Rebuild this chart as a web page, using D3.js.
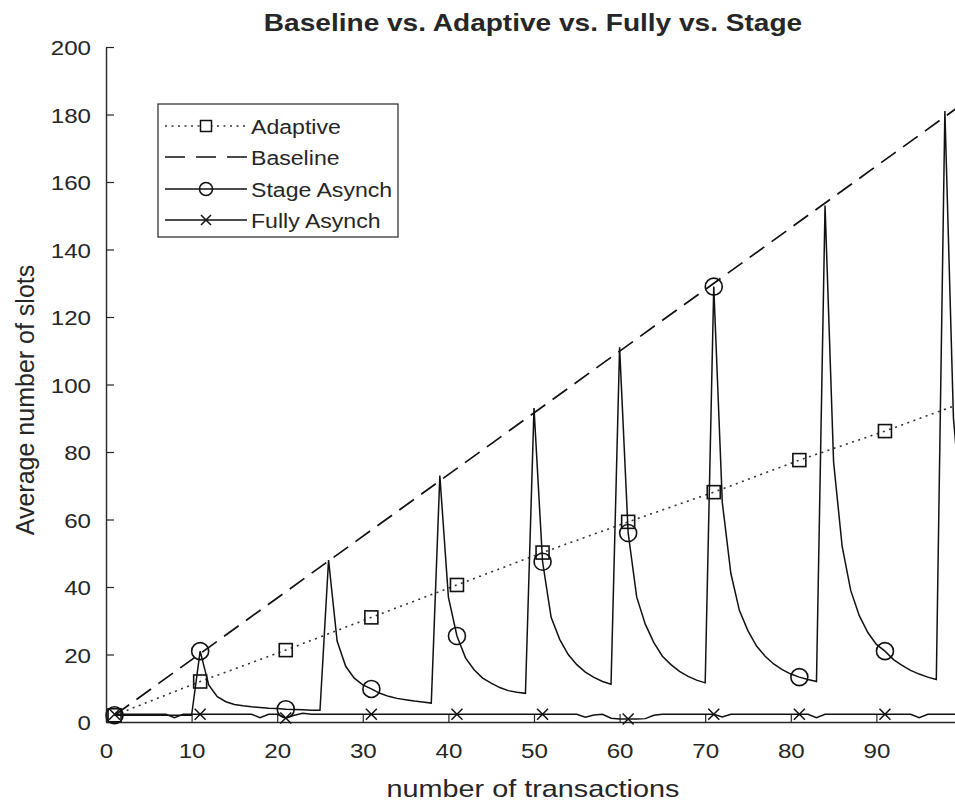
<!DOCTYPE html>
<html><head><meta charset="utf-8">
<script src="https://cdn.jsdelivr.net/npm/d3@7"></script>
<style>
body{margin:0;background:#fff;}
svg{display:block;}
text{font-family:"Liberation Sans",Arial,Helvetica,sans-serif;fill:#262626;}
</style>
</head><body>
<svg id="c" width="955" height="803"></svg>
<script>
// ---------- data ----------
const title = "Baseline vs. Adaptive vs. Fully vs. Stage";
const xLabel = "number of transactions";
const yLabel = "Average number of slots";
const xTicks = [0,10,20,30,40,50,60,70,80,90];
const yTicks = [0,20,40,60,80,100,120,140,160,180,200];

const seriesNames = ["Adaptive","Baseline","Stage Asynch","Fully Asynch"];

const transactions = d3.range(1, 101);   // x = 1..100
const markerX = [1,11,21,31,41,51,61,71,81,91];

const baselineX = [1, 100];
const baselineY = [2, 183];

const adaptiveX = [1,11,21,31,41,51,61,71,81,91,100];
const adaptiveY = [2,12,21.3,31,40.6,50.2,59.3,68.1,77.6,86.2,94.5];

const stageY = [
  2,2,2,2,2,2,2,2,2,2,
  21,11,7.5,6,5.2,4.8,4.5,4.3,4.1,4,
  3.8,3.7,3.6,3.5,3.5,48,24,16.5,13,11,
  9.8,8.5,7.6,7,6.6,6.2,5.9,5.6,73,37,
  25.5,19,15.5,13,11.5,10.2,9.3,8.8,8.5,93,
  47.5,31,24.5,20,17,14.8,13.2,12,11.2,111,
  56,37,29,23.5,19.5,17,15,13.5,12.4,11.6,
  129,65,44,33,27,22.5,19.5,17.2,15.5,14.2,
  13.3,12.6,12,153,77,52,39,31.5,26.5,23,
  21,18.5,16.8,15.3,14.2,13.3,12.6,181,90,61
];

const fullyY = [
  2.3,2.3,2.3,2.3,2.3,2.3,2.3,1.3,2.3,2.3,
  2.3,2.3,2.3,2.3,2.3,2.3,2.3,1.3,2.3,2.3,
  1.2,2.0,2.6,2.3,2.3,2.3,2.3,2.3,2.3,2.3,
  2.3,2.3,2.3,2.3,2.3,2.3,2.3,2.3,2.3,2.3,
  2.3,2.3,2.3,2.3,2.3,2.3,2.3,2.3,2.3,2.3,
  2.3,2.3,2.3,2.3,2.3,1.4,2.1,2.3,1.1,0.9,
  0.9,0.9,1.0,2.0,2.3,2.3,2.3,2.3,2.3,2.3,
  2.3,1.5,2.3,2.3,2.3,2.3,2.3,2.3,2.3,2.3,
  2.3,2.3,1.3,2.3,2.3,2.3,2.3,2.3,2.3,2.3,
  2.3,2.3,2.3,2.3,1.3,2.3,2.3,2.3,2.3,2.3
];

// ---------- layout ----------
const svg = d3.select("#c");
const W = 955, H = 803;
svg.append("rect").attr("width",W).attr("height",H).attr("fill","#fff");

const x = d3.scaleLinear().domain([0,100]).range([106,962]);
const y = d3.scaleLinear().domain([0,200]).range([722,47]);
const axisColor = "#262626";

function stretchText(sel, sx){
  sel.each(function(){
    const t = d3.select(this);
    const px = +t.attr("x") || 0, py = +t.attr("y") || 0;
    t.attr("transform", `translate(${px},${py}) scale(${sx},1)`).attr("x",0).attr("y",0);
  });
}

// axes
const gx = svg.append("g").attr("transform",`translate(0,${y(0)})`)
  .call(d3.axisBottom(x).tickValues(xTicks).tickSizeInner(-8).tickSizeOuter(0).tickPadding(21).tickFormat(d3.format("d")));
const gy = svg.append("g").attr("transform",`translate(${x(0)},0)`)
  .call(d3.axisLeft(y).tickValues(yTicks).tickSizeInner(-8).tickSizeOuter(0).tickPadding(15).tickFormat(d3.format("d")));
[gx,gy].forEach(g=>{
  g.select(".domain").attr("stroke",axisColor).attr("stroke-width",1.4);
  g.selectAll(".tick line").attr("stroke",axisColor).attr("stroke-width",1.2);
  g.selectAll(".tick text").attr("fill",axisColor).style("font-size","21px")
    .style("font-family",'"Liberation Sans",Arial,sans-serif');
});
gx.selectAll(".tick text").attr("dy",null).attr("y",36);
stretchText(gx.selectAll(".tick text"),1.15);
gy.selectAll(".tick text").attr("dy","0.36em");
stretchText(gy.selectAll(".tick text"),1.15);

// line generators
const line = d3.line().x(d=>x(d[0])).y(d=>y(d[1]));

// Adaptive (dotted)
svg.append("path").datum(adaptiveX.map((v,i)=>[v,adaptiveY[i]]))
  .attr("d",line).attr("fill","none").attr("stroke","#333")
  .attr("stroke-width",1.6).attr("stroke-dasharray","2,4.5");
// Baseline (dashed)
svg.append("path").datum(baselineX.map((v,i)=>[v,baselineY[i]]))
  .attr("d",line).attr("fill","none").attr("stroke","#111")
  .attr("stroke-width",1.7).attr("stroke-dasharray","18,9");
// Stage Asynch (solid)
svg.append("path").datum(transactions.map((v,i)=>[v,stageY[i]]))
  .attr("d",line).attr("fill","none").attr("stroke","#111").attr("stroke-width",1.5);
// Fully Asynch (solid)
svg.append("path").datum(transactions.map((v,i)=>[v,fullyY[i]]))
  .attr("d",line).attr("fill","none").attr("stroke","#111").attr("stroke-width",1.5);

// markers
const sq = 13, cr = 8.5, xs = 5.5;
function square(g, cx, cy){
  g.append("rect").attr("x",cx-sq/2).attr("y",cy-sq/2).attr("width",sq).attr("height",sq)
   .attr("fill","none").attr("stroke","#111").attr("stroke-width",1.6);
}
function circle(g, cx, cy){
  g.append("circle").attr("cx",cx).attr("cy",cy).attr("r",cr)
   .attr("fill","none").attr("stroke","#111").attr("stroke-width",1.6);
}
function cross(g, cx, cy){
  g.append("path").attr("d",`M${cx-xs},${cy-xs}L${cx+xs},${cy+xs}M${cx-xs},${cy+xs}L${cx+xs},${cy-xs}`)
   .attr("fill","none").attr("stroke","#111").attr("stroke-width",1.5);
}
const gm = svg.append("g");
adaptiveX.forEach((v,i)=>{ if(markerX.includes(v)) square(gm, x(v), y(adaptiveY[i])); });
markerX.forEach(v=>{ circle(gm, x(v), y(stageY[v-1])); });
markerX.forEach(v=>{ cross(gm, x(v), y(fullyY[v-1])); });

// legend
const lg = svg.append("g");
lg.append("rect").attr("x",158).attr("y",104).attr("width",240).attr("height",133)
  .attr("fill","#fff").attr("stroke",axisColor).attr("stroke-width",1.2);
const legY = [126,157,189,220];
const styles = [
  {dash:"2,4.5", stroke:"#333", marker:square},
  {dash:"18,9", stroke:"#111", marker:null},
  {dash:null, stroke:"#111", marker:circle},
  {dash:null, stroke:"#111", marker:cross}
];
seriesNames.forEach((name,i)=>{
  const yy = legY[i];
  const l = lg.append("line").attr("x1",165).attr("x2",247).attr("y1",yy).attr("y2",yy)
    .attr("stroke",styles[i].stroke).attr("stroke-width",1.6);
  if(styles[i].dash) l.attr("stroke-dasharray",styles[i].dash);
  if(i===1) l.attr("stroke-dasharray","20,11");
  if(styles[i].marker){
    if(i===0){ lg.append("rect").attr("x",206-5.5).attr("y",yy-5.5).attr("width",11).attr("height",11)
      .attr("fill","#fff").attr("stroke","#111").attr("stroke-width",1.5); }
    else if(i===2){ lg.append("circle").attr("cx",206).attr("cy",yy).attr("r",6.5)
      .attr("fill","none").attr("stroke","#111").attr("stroke-width",1.5); }
    else { const s=5; lg.append("path").attr("d",`M${206-s},${yy-s}L${206+s},${yy+s}M${206-s},${yy+s}L${206+s},${yy-s}`)
      .attr("stroke","#111").attr("stroke-width",1.5); }
  }
  const t = lg.append("text").attr("x",251).attr("y",yy).attr("dy","0.36em")
    .style("font-size","21px").attr("fill","#111").text(name);
  stretchText(t,1.1);
});

// title and labels
const tt = svg.append("text").attr("x",533).attr("y",31).attr("text-anchor","middle")
  .style("font-size","23px").style("font-weight","bold").attr("fill","#111").text(title);
stretchText(tt,1.22);
const xl = svg.append("text").attr("x",533).attr("y",797).attr("text-anchor","middle")
  .style("font-size","24px").attr("fill",axisColor).text(xLabel);
stretchText(xl,1.2);
const yl = svg.append("text").attr("text-anchor","middle")
  .attr("transform",`translate(34,${400}) rotate(-90)`)
  .style("font-size","25px").attr("fill",axisColor).text(yLabel);
</script>
</body></html>
